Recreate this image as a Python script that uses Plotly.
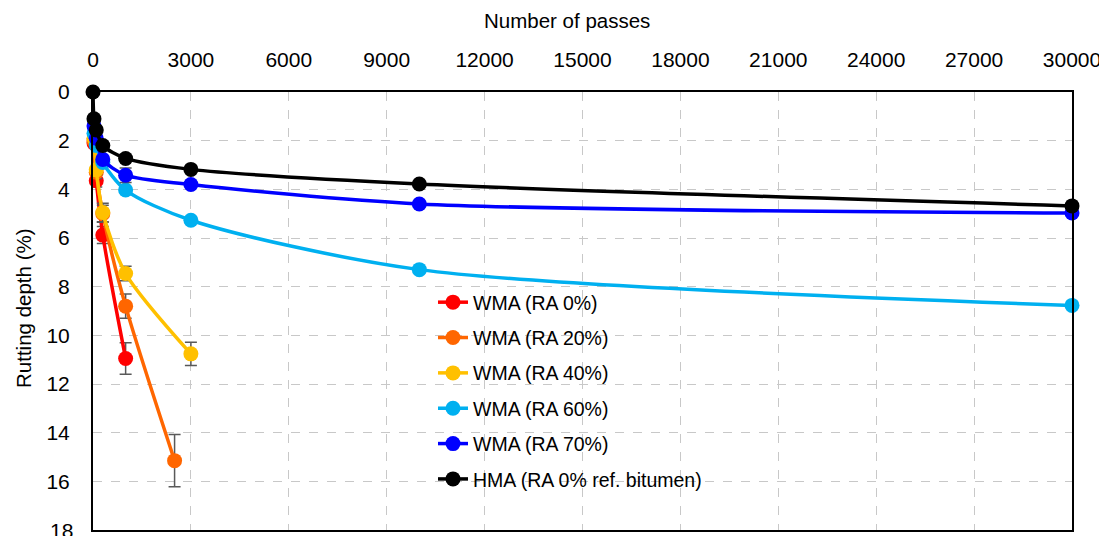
import plotly.graph_objects as go

names = ["WMA (RA 0%)", "WMA (RA 20%)", "WMA (RA 40%)", "WMA (RA 60%)",
         "WMA (RA 70%)", "HMA (RA 0% ref. bitumen)"]
colors = ["#FF0000", "#FF6600", "#FFC000", "#00B0F0", "#0000FF", "#000000"]

x_ra0 = [30, 100, 300, 1000]
y_ra0 = [2.1, 3.65, 5.88, 10.95]
e_ra0 = [0.15, 0.25, 0.35, 0.65]

x_ra20 = [30, 100, 300, 1000, 2500]
y_ra20 = [2.0, 3.3, 5.0, 8.8, 15.15]
e_ra20 = [0.15, 0.25, 0.35, 0.5, 1.07]

x_ra40 = [30, 100, 300, 1000, 3000]
y_ra40 = [1.9, 3.2, 4.95, 7.46, 10.76]
e_ra40 = [0.15, 0.2, 0.38, 0.3, 0.48]

x_ra60 = [30, 100, 300, 1000, 3000, 10000, 30000]
y_ra60 = [1.7, 2.2, 2.9, 4.03, 5.27, 7.3, 8.77]
e_ra60 = [0.05, 0.05, 0.1, 0.1, 0.1, 0.1, 0.1]

x_ra70 = [30, 100, 300, 1000, 3000, 10000, 30000]
y_ra70 = [1.4, 1.9, 2.77, 3.42, 3.8, 4.6, 4.97]
e_ra70 = [0.05, 0.05, 0.1, 0.3, 0.1, 0.1, 0.1]

x_hma = [0, 30, 100, 300, 1000, 3000, 10000, 30000]
y_hma = [0, 1.1, 1.56, 2.2, 2.73, 3.18, 3.78, 4.68]
e_hma = [0, 0.05, 0.05, 0.05, 0.05, 0.05, 0.05, 0.05]

xs = [x_ra0, x_ra20, x_ra40, x_ra60, x_ra70, x_hma]
ys = [y_ra0, y_ra20, y_ra40, y_ra60, y_ra70, y_hma]
es = [e_ra0, e_ra20, e_ra40, e_ra60, e_ra70, e_hma]

x_ticks = [0, 3000, 6000, 9000, 12000, 15000, 18000, 21000, 24000, 27000, 30000]
y_ticks = [0, 2, 4, 6, 8, 10, 12, 14, 16, 18]

x_title = "Number of passes"
y_title = "Rutting depth (%)"

FONT = "Liberation Sans, Arial, sans-serif"
FS_TICK = 21
FS_LEG = 19.5
FS_TITLE = 20.5

# page body has an 8px margin; compensate so the picture lines up
OFF = 8
W, H = 1107 - OFF, 536 - OFF
L, R, T, B = 93 - OFF, 35, 92 - OFF, 6

fig = go.Figure()
for i in range(len(names)):
    fig.add_trace(go.Scatter(
        x=xs[i], y=ys[i], name=names[i], mode="lines+markers",
        line=dict(color=colors[i], width=3.5, shape="spline", smoothing=0.8),
        marker=dict(color=colors[i], size=15, symbol="circle"),
        error_y=dict(type="data", array=es[i], visible=True,
                     color="#595959", thickness=1.5, width=6),
        cliponaxis=False,
        legendgroup="g%d" % i,
    ))

pw = W - L - R
ph = H - T - B


def px_x(p):
    return (p - OFF - L) / pw


def px_y(p):
    return 1 - (p - OFF - T) / ph


# last y tick label (at the very bottom edge) drawn as annotation
shown_y = y_ticks[:-1]
last_y = y_ticks[-1]

fig.update_layout(
    width=W, height=H,
    margin=dict(l=L, r=R, t=T, b=B, autoexpand=False),
    paper_bgcolor="white", plot_bgcolor="white",
    font=dict(family=FONT, size=FS_TICK, color="black"),
    showlegend=True,
    legend=dict(x=px_x(474 - 41), y=px_y(283),
                xanchor="left", yanchor="top",
                bgcolor="rgba(0,0,0,0)", font=dict(size=FS_LEG),
                tracegroupgap=7, itemwidth=30),
    xaxis=dict(
        side="top", range=[0, 30000], tickvals=x_ticks,
        ticktext=[str(v) for v in x_ticks], automargin=False,
        showgrid=True, gridcolor="#C8C8C8", griddash="dash", gridwidth=1,
        showline=True, linecolor="black", linewidth=2, mirror=True,
        zeroline=False, ticks="", ticklabelstandoff=15,
        tickfont=dict(size=FS_TICK),
    ),
    yaxis=dict(
        range=[18, 0], tickvals=shown_y, automargin=False,
        showgrid=True, gridcolor="#C8C8C8", griddash="dash", gridwidth=1,
        showline=True, linecolor="black", linewidth=2, mirror=True,
        zeroline=False, ticks="", ticklabelstandoff=17,
        tickfont=dict(size=FS_TICK),
    ),
    annotations=[
        dict(text=x_title, xref="paper", yref="paper",
             x=px_x(567), y=px_y(20), xanchor="center",
             yanchor="middle", showarrow=False, font=dict(size=FS_TITLE)),
        dict(text=y_title, xref="paper", yref="paper",
             x=px_x(23), y=px_y(308), xanchor="center",
             yanchor="middle", showarrow=False, textangle=-90,
             font=dict(size=FS_TITLE)),
        dict(text=str(last_y), xref="paper", yref="y",
             x=px_x(75), y=last_y, xanchor="right", yanchor="middle",
             showarrow=False, font=dict(size=FS_TICK)),
    ],
)

fig.write_html("out.html")
